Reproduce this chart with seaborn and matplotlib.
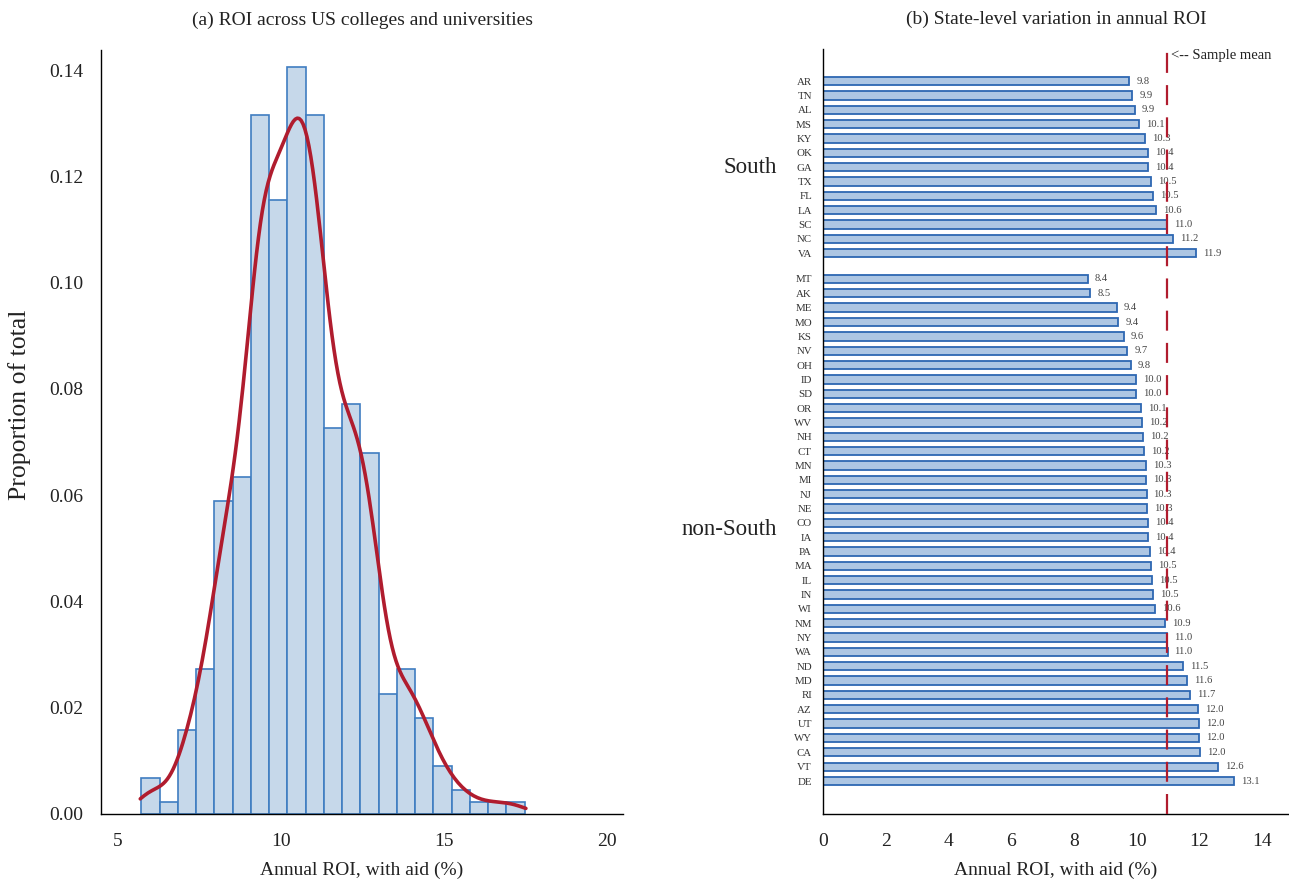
import numpy as np
import pandas as pd
import matplotlib
matplotlib.use("Agg")
import matplotlib.pyplot as plt
import seaborn as sns

# ---- panel (a): histogram of annual ROI (counts per bin)
bin_start = 5.72
bin_width = 0.56
bin_counts = [3, 1, 7, 12, 26, 28, 58, 51, 62, 58, 32, 34, 30, 10, 12, 8, 4, 2, 1, 1, 1]

# ---- panel (b): state averages
south_states = ["AR", "TN", "AL", "MS", "KY", "OK", "GA", "TX", "FL", "LA", "SC", "NC", "VA"]
south_roi = [9.76, 9.86, 9.94, 10.06, 10.26, 10.36, 10.37, 10.46, 10.52, 10.62, 10.97, 11.16, 11.90]

other_states = ["MT", "AK", "ME", "MO", "KS", "NV", "OH", "ID", "SD", "OR", "WV", "NH",
                "CT", "MN", "MI", "NJ", "NE", "CO", "IA", "PA", "MA", "IL", "IN", "WI",
                "NM", "NY", "WA", "ND", "MD", "RI", "AZ", "UT", "WY", "CA", "VT", "DE"]
other_roi = [8.44, 8.52, 9.37, 9.41, 9.58, 9.70, 9.82, 9.99, 9.99, 10.13, 10.17, 10.20,
             10.23, 10.30, 10.30, 10.31, 10.33, 10.37, 10.36, 10.41, 10.46, 10.49, 10.52, 10.59,
             10.89, 10.96, 10.98, 11.46, 11.60, 11.71, 11.96, 11.97, 11.98, 12.01, 12.58, 13.09]

sample_mean = 10.95

RED = "#b01c2e"
TXT = "#222222"

sns.set_theme(style="white")
plt.rcParams["font.family"] = ["Liberation Serif", "DejaVu Serif"]
plt.rcParams["axes.edgecolor"] = "black"
plt.rcParams["axes.linewidth"] = 1.0

fig = plt.figure(figsize=(12.89, 8.82), dpi=100)
ax1 = fig.add_axes([0.0784, 0.0771, 0.405, 0.8662])
ax2 = fig.add_axes([0.6385, 0.0771, 0.3615, 0.8673])

# ---------------- (a) histogram + kde
edges = bin_start + bin_width * np.arange(len(bin_counts) + 1)
centers = (edges[:-1] + edges[1:]) / 2
roi_values = np.repeat(centers, bin_counts)

sns.histplot(x=roi_values, bins=edges, stat="proportion", kde=True, ax=ax1,
             color="#c6d8ea", alpha=1.0, edgecolor="#3f7dc1", linewidth=1.2,
             kde_kws={"cut": 0.7, "bw_adjust": 0.85},
             line_kws={"color": RED, "linewidth": 2.6})
ax1.lines[0].set_color(RED)

ax1.set_xlim(4.48, 20.5)
ax1.set_ylim(0, 0.1438)
ax1.set_xticks([5, 10, 15, 20])
ax1.set_yticks(np.arange(0, 0.141, 0.02))
ax1.yaxis.set_major_formatter(matplotlib.ticker.FormatStrFormatter("%.2f"))
ax1.tick_params(axis="x", length=0, pad=14, labelsize=14, labelcolor=TXT)
ax1.tick_params(axis="y", length=0, pad=13, labelsize=14, labelcolor=TXT)
ax1.set_xlabel("Annual ROI, with aid (%)", fontsize=14, color=TXT, labelpad=8)
ax1.set_ylabel("Proportion of total", fontsize=18.5, color=TXT)
ax1.yaxis.set_label_coords(-0.135, 0.535)
ax1.set_title("(a) ROI across US colleges and universities", fontsize=14, color=TXT, pad=18)
sns.despine(ax=ax1)

# ---------------- (b) state bars
group_gap = 1.8
south_pos = list(np.arange(len(south_states), dtype=float))
other_pos = list(len(south_states) - 1 + group_gap + np.arange(len(other_states)))

df = pd.DataFrame({
    "state": south_states + other_states,
    "roi": south_roi + other_roi,
    "pos": south_pos + other_pos,
})

sns.barplot(data=df, x="roi", y="pos", orient="y", native_scale=True, ax=ax2,
            width=0.58, color="#adc6e3", saturation=1, edgecolor="#2d67b2",
            linewidth=1.3, errorbar=None)

for _, r in df.iterrows():
    ax2.annotate(f"{r['roi']:.1f}", (r["roi"], r["pos"]), xytext=(5, 0),
                 textcoords="offset points", va="center", ha="left",
                 fontsize=7.6, color="#444444")

ax2.axvline(sample_mean, color=RED, linewidth=1.6, dashes=(9, 5.5), zorder=5)
ax2.text(sample_mean + 0.15, -1.75, "<-- Sample mean", fontsize=10.5,
         color=TXT, va="center", ha="left")

ax2.set_yticks(df["pos"], labels=df["state"])
ax2.set_ylim(51.1, -2.23)
ax2.set_xlim(0, 14.85)
ax2.set_xticks(np.arange(0, 15, 2))
ax2.tick_params(axis="x", length=0, pad=14, labelsize=14, labelcolor=TXT)
ax2.tick_params(axis="y", length=0, pad=8, labelsize=7.8, labelcolor="#333333")
ax2.set_xlabel("Annual ROI, with aid (%)", fontsize=14, color=TXT, labelpad=8)
ax2.set_ylabel("")
ax2.set_title("(b) State-level variation in annual ROI", fontsize=14, color=TXT, pad=18)

trans = ax2.get_yaxis_transform()
ax2.text(-0.099, np.mean(south_pos), "South", transform=trans, ha="right",
         va="center", fontsize=16.5, color=TXT)
ax2.text(-0.099, np.mean(other_pos), "non-South", transform=trans, ha="right",
         va="center", fontsize=16.5, color=TXT)
sns.despine(ax=ax2)

fig.savefig("out.png", dpi=100)
